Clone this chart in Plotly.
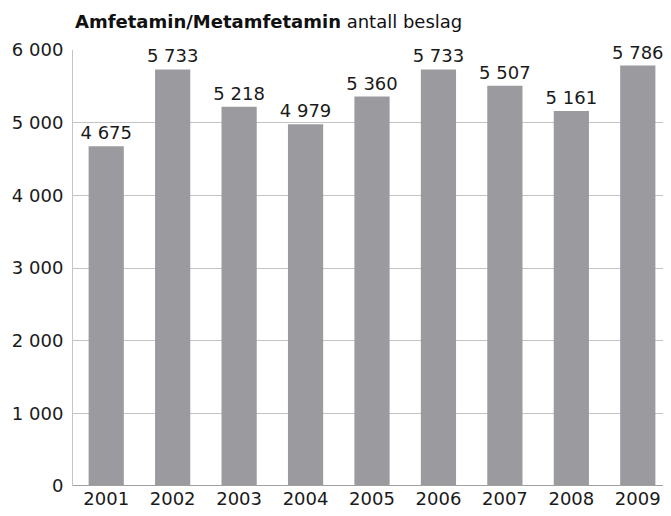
import plotly.graph_objects as go

years = ["2001", "2002", "2003", "2004", "2005", "2006", "2007", "2008", "2009"]
seizures = [4675, 5733, 5218, 4979, 5360, 5733, 5507, 5161, 5786]
y_ticks = [0, 1000, 2000, 3000, 4000, 5000, 6000]

font = "DejaVu Sans"

fig = go.Figure(go.Bar(
    x=years, y=seizures,
    marker=dict(color="#9b9b9f", line=dict(width=0)),
    width=0.53,
    text=seizures,
    texttemplate="%{y:,}",
    textposition="outside",
    constraintext="none",
    textfont=dict(family=font, size=18, color="#1a1a1a"),
    cliponaxis=False,
))

# the page adds an 8px body margin, so the figure is sized to fill the rest
fig.update_layout(
    width=663, height=508,
    margin=dict(l=65, r=0, t=42, b=30, autoexpand=False),
    paper_bgcolor="white", plot_bgcolor="white",
    separators=", ",
    showlegend=False,
    font=dict(family=font, size=18, color="#1a1a1a"),
    xaxis=dict(
        type="category", range=[-0.5, 8.5], automargin=False,
        showgrid=False, showline=False, ticks="",
        tickfont=dict(size=18), ticklabelstandoff=0,
    ),
    yaxis=dict(
        range=[0, 6000], tickvals=y_ticks, tickformat=",", automargin=False,
        showgrid=True, gridcolor="#c4c4c4", gridwidth=1,
        showline=True, linecolor="#c4c4c4", linewidth=1,
        zeroline=False, ticks="", ticklabelstandoff=5,
        tickfont=dict(size=18),
    ),
    shapes=[dict(type="line", xref="paper", yref="y", x0=0, x1=1, y0=0, y1=0,
                 line=dict(color="#a0a0a0", width=2))],
    annotations=[dict(
        xref="paper", yref="paper", x=0, y=1.066, xanchor="left", yanchor="middle",
        text="<b>Amfetamin/Metamfetamin</b> antall beslag", showarrow=False,
        font=dict(family=font, size=18, color="#111111"),
    )],
)

fig.write_html("out.html")
